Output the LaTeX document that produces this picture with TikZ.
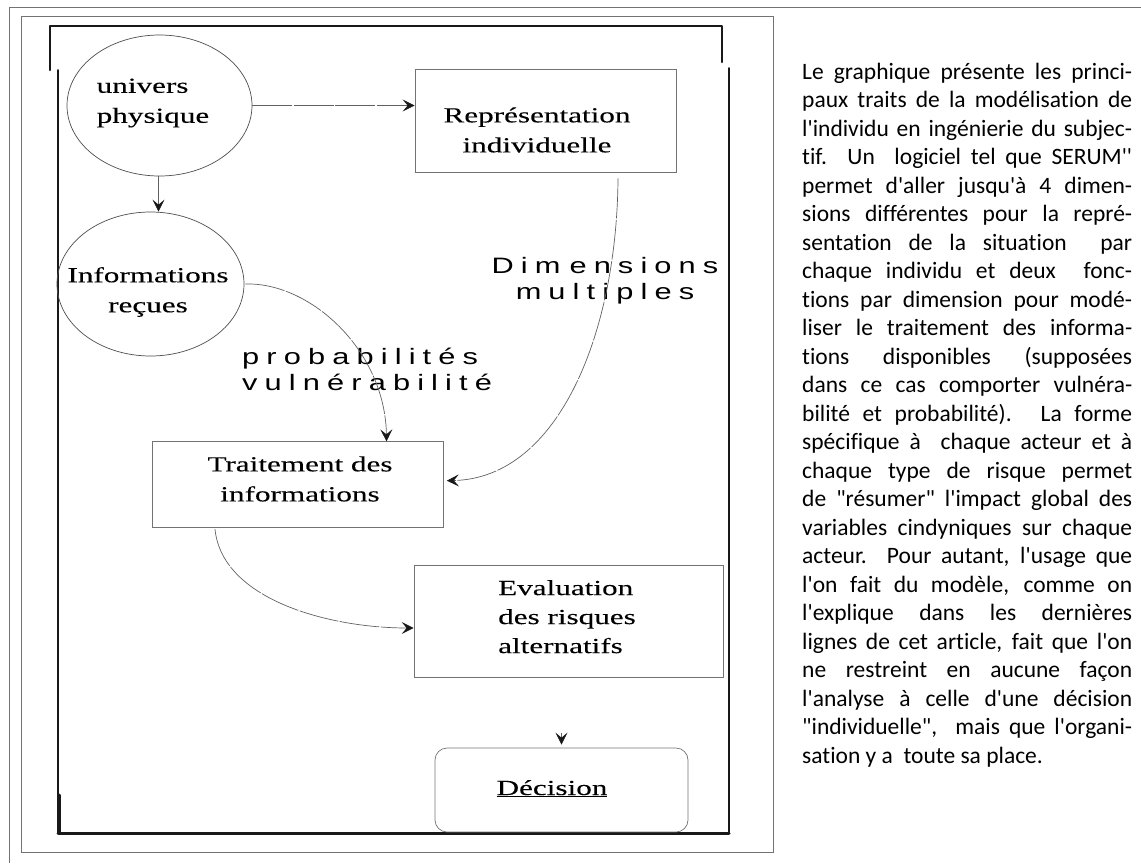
\documentclass[tikz,border=0pt]{standalone}
\usepackage{fontspec}
\usetikzlibrary{shapes.geometric,arrows.meta}
% fonts: stretched serif for the boxes, spaced sans for the edge labels, humanist sans for the column
\newfontfamily\boxfont[FakeStretch=1.45,FakeBold=0.12]{Liberation Serif}
\newfontfamily\labfont[FakeStretch=1.38,LetterSpace=32]{Liberation Sans}
\newfontfamily\colfont[Ligatures={NoCommon,NoContextual}]{Carlito}
\newcommand\justline[1]{\makebox[330pt][s]{#1}\par}

\begin{document}
\begin{tikzpicture}[x=1pt,y=-1pt,
  thinrule/.style={draw=black!55,line width=0.9pt},
  frameline/.style={draw=black!90,line cap=round,line join=round},
  shapeline/.style={draw=black!70,line width=0.7pt},
  blob/.style={shapeline,ellipse,inner sep=0pt},
  stepbox/.style={draw=black!55,line width=0.7pt,rectangle,inner sep=0pt},
  boxtext/.style={font=\boxfont\fontsize{21.5}{30}\selectfont,inner sep=0pt},
  lab/.style={font=\labfont\fontsize{22.3}{26}\selectfont,inner sep=0pt},
  conn/.style={draw=black!62,line width=0.7pt,dash pattern=on 40pt off 1.5pt,
    -{Stealth[length=12pt,width=12pt,inset=5pt,black!90]}}]

\useasboundingbox (0,0) rectangle (1141,863);

% page rules and the inner panel
\draw[thinrule] (9,863) -- (9,7) -- (1141,7);
\draw[thinrule] (21,16) rectangle (773,852);

% heavy frame around the diagram
\draw[frameline,line width=2.6pt] (50,70) -- (50,26) -- (722,26) -- (722,62);
\draw[frameline,line width=2pt] (58,70) -- (58,833);
\draw[frameline,line width=2pt] (729,68) -- (729,833);
\draw[frameline,line width=3pt] (58,833) -- (729,833);
\draw[frameline,line width=3pt] (59,795) -- (59,833);

% shapes
\node[blob,minimum width=185pt,minimum height=141pt] (univ) at (159.5,105.5) {};
\node[boxtext,align=left] (univtext) at (153,103) {univers\\physique};

\node[stepbox,minimum width=261pt,minimum height=103pt] (rep) at (545.5,120.5) {};
\node[boxtext,align=center] (reptext) at (537,130) {Représentation\\individuelle};

\node[blob,minimum width=187pt,minimum height=144pt] (info) at (150.5,284) {};
\node[boxtext,align=center] (infotext) at (148,292) {Informations\\reçues};

\node[stepbox,minimum width=291pt,minimum height=86pt] (trait) at (298,484.7) {};
\node[boxtext,align=center] (traittext) at (300,479) {Traitement des\\informations};

\node[stepbox,minimum width=309pt,minimum height=112pt] (eval) at (568.5,621) {};
\node[boxtext,align=left,font=\boxfont\fontsize{21.5}{29}\selectfont] (evaltext) at (567,616.7) {Evaluation\\des risques\\alternatifs};

\node[stepbox,rounded corners=12pt,minimum width=253pt,minimum height=84pt] (dec) at (561.5,790) {};
\node[boxtext,anchor=base] (dectext) at (552,795) {\underline{Décision}};

% edge labels
\node[lab,align=center] (dimlab) at (605,281) {Dim\kern9pt ensions\\m\kern7pt ultiples};
\node[lab,align=left,anchor=west] (problab) at (242,369.5) {probabilités\\vulnérabilité};

% connectors
\draw[conn] (univ.east) -- (univ.east -| rep.west);
\draw[conn] ([xshift=-1pt]univ.south) -- ([xshift=-1pt]univ.south |- info.north);
\draw[conn] ([xshift=1pt]info.east) .. controls (310,282) and (385,350) .. ([xshift=234.4pt]trait.north west);
\draw[conn] ([xshift=72.5pt,yshift=-6pt]rep.south) .. controls (617,330) and (560,478) .. ([xshift=3pt,yshift=4pt]trait.east);
\draw[conn] ([xshift=-83pt,yshift=-1pt]trait.south) .. controls (222,600) and (330,628) .. ([yshift=-7pt]eval.west);
\draw[conn,shorten <=56pt,shorten >=3pt] (dec.north |- eval.south) -- (dec.north);

% text column
\node[inner sep=0pt,anchor=base west] (column) at (802,79) {\parbox[t]{330pt}{%
\colfont\fontsize{23.5}{28.5}\selectfont\parindent=0pt
\justline{Le graphique présente les princi-}
\justline{paux traits de la modélisation de}
\justline{l'individu en ingénierie du subjec-}
\justline{tif. Un\ \ logiciel tel que SERUM''}
\justline{permet d'aller jusqu'à 4 dimen-}
\justline{sions différentes pour la repré-}
\justline{sentation de la situation\ \ par}
\justline{chaque individu et deux\ \ fonc-}
\justline{tions par dimension pour modé-}
\justline{liser le traitement des informa-}
\justline{tions disponibles (supposées}
\justline{dans ce cas comporter vulnéra-}
\justline{bilité et probabilité). La forme}
\justline{spécifique à\ \ chaque acteur et à}
\justline{chaque type de risque permet}
\justline{de "résumer" l'impact global des}
\justline{variables cindyniques sur chaque}
\justline{acteur. Pour autant, l'usage que}
\justline{l'on fait du modèle, comme on}
\justline{l'explique dans les dernières}
\justline{lignes de cet article, fait que l'on}
\justline{ne restreint en aucune façon}
\justline{l'analyse à celle d'une décision}
\justline{"individuelle",\ \ mais que l'organi-}
sation y a\ \ toute sa place.\par}};
\end{tikzpicture}
\end{document}
